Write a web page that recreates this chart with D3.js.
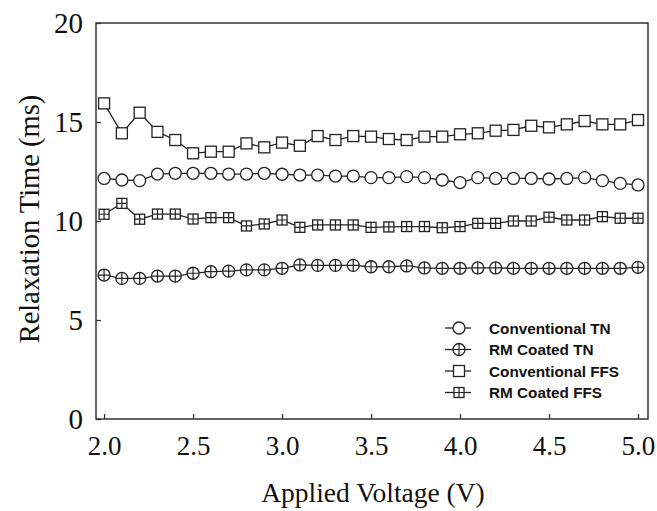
<!DOCTYPE html>
<html><head><meta charset="utf-8">
<script src="https://cdn.jsdelivr.net/npm/d3@7"></script>
<style>body{margin:0;background:#fff}</style>
</head><body>
<svg id="c" width="657" height="511"></svg>
<script>
const voltages = d3.range(31).map(i => +(2.0 + i * 0.1).toFixed(1));
const convTN = [12.15,12.07,12.04,12.37,12.41,12.41,12.41,12.37,12.37,12.41,12.36,12.32,12.32,12.27,12.27,12.19,12.19,12.24,12.19,12.07,11.94,12.19,12.15,12.15,12.15,12.12,12.15,12.19,12.04,11.90,11.82];
const rmTN = [7.27,7.10,7.10,7.22,7.22,7.36,7.44,7.47,7.53,7.53,7.61,7.78,7.76,7.76,7.76,7.69,7.69,7.73,7.63,7.61,7.61,7.63,7.63,7.61,7.61,7.61,7.61,7.61,7.61,7.61,7.66];
const convFFS = [15.94,14.43,15.47,14.50,14.09,13.42,13.50,13.50,13.92,13.72,13.96,13.80,14.29,14.09,14.29,14.26,14.14,14.09,14.26,14.26,14.38,14.43,14.56,14.60,14.81,14.73,14.88,15.05,14.88,14.88,15.10];
const rmFFS = [10.34,10.89,10.09,10.35,10.35,10.10,10.17,10.17,9.75,9.85,10.05,9.68,9.80,9.80,9.80,9.68,9.70,9.72,9.72,9.66,9.72,9.88,9.88,10.00,10.00,10.19,10.05,10.05,10.22,10.14,10.14];
const seriesNames = ["Conventional TN","RM Coated TN","Conventional FFS","RM Coated FFS"];
const seriesShapes = ["circle","circlePlus","square","squarePlus"];
const yTicks = [0,5,10,15,20];
const xTicks = [2.0,2.5,3.0,3.5,4.0,4.5,5.0];

const svg = d3.select("#c");
const L=96, R=648, T=23, B=419;
const x = d3.scaleLinear().domain([1.9546, 5.0562]).range([L, R]);
const y = d3.scaleLinear().domain([0, 20]).range([B, T]);
const col = "#222";
const serif = "'Liberation Serif', 'Times New Roman', serif";

const all = [convTN, rmTN, convFFS, rmFFS];

function marker(g, shape, cx, cy) {
  if (shape.startsWith("circle")) {
    const r = 6;
    g.append("circle").attr("cx",cx).attr("cy",cy).attr("r",r)
      .attr("fill","#fff").attr("stroke",col).attr("stroke-width",1.3);
    if (shape === "circlePlus") {
      g.append("path").attr("d",`M${cx-r},${cy}H${cx+r}M${cx},${cy-r}V${cy+r}`)
        .attr("stroke",col).attr("stroke-width",1.2);
    }
  } else {
    const s = shape === "square" ? 5.5 : 5;
    g.append("rect").attr("x",cx-s).attr("y",cy-s).attr("width",2*s).attr("height",2*s)
      .attr("fill","#fff").attr("stroke",col).attr("stroke-width",1.3);
    if (shape === "squarePlus") {
      g.append("path").attr("d",`M${cx-s},${cy}H${cx+s}M${cx},${cy-s}V${cy+s}`)
        .attr("stroke",col).attr("stroke-width",1.2);
    }
  }
}

const line = d3.line().x((d,i)=>x(voltages[i])).y(d=>y(d));
all.forEach((vals, k) => {
  svg.append("path").attr("d", line(vals)).attr("fill","none")
    .attr("stroke",col).attr("stroke-width",1.3);
  const g = svg.append("g");
  vals.forEach((v,i) => marker(g, seriesShapes[k], x(voltages[i]), y(v)));
});

// frame
svg.append("rect").attr("x",L).attr("y",T).attr("width",R-L).attr("height",B-T)
  .attr("fill","none").attr("stroke","#333").attr("stroke-width",1.5);

const yAxis = svg.append("g").attr("transform",`translate(${L},0)`)
  .call(d3.axisLeft(y).tickValues(yTicks).tickSize(-5).tickPadding(13).tickFormat(d3.format("d")));
yAxis.select(".domain").remove();
yAxis.selectAll("line").attr("stroke","#333").attr("stroke-width",1.3);
yAxis.selectAll("text").attr("font-family",serif).attr("font-size",29).attr("fill","#111");

const xAxis = svg.append("g").attr("transform",`translate(0,${B})`)
  .call(d3.axisBottom(x).tickValues(xTicks).tickSize(-5).tickPadding(17).tickFormat(d3.format(".1f")));
xAxis.select(".domain").remove();
xAxis.selectAll("line").attr("stroke","#333").attr("stroke-width",1.3);
xAxis.selectAll("text").attr("font-family",serif).attr("font-size",27).attr("fill","#111");

svg.append("text").attr("x",373).attr("y",502).attr("text-anchor","middle")
  .attr("font-family",serif).attr("font-size",27.5).attr("fill","#111")
  .text("Applied Voltage (V)");
svg.append("text").attr("transform","translate(39,219) rotate(-90)").attr("text-anchor","middle")
  .attr("font-family",serif).attr("font-size",28.5).attr("fill","#111")
  .text("Relaxation Time (ms)");

const lg = svg.append("g");
seriesNames.forEach((name, k) => {
  const ly = 328 + k * 21.5;
  lg.append("line").attr("x1",445).attr("x2",471).attr("y1",ly).attr("y2",ly)
    .attr("stroke",col).attr("stroke-width",1.3);
  marker(lg, seriesShapes[k], 459, ly);
  lg.append("text").attr("x",489).attr("y",ly).attr("dy","0.36em")
    .attr("font-family","'Liberation Sans', Arial, sans-serif").attr("font-weight","bold")
    .attr("font-size",15.3).attr("fill","#111").text(name);
});
</script>
</body></html>
